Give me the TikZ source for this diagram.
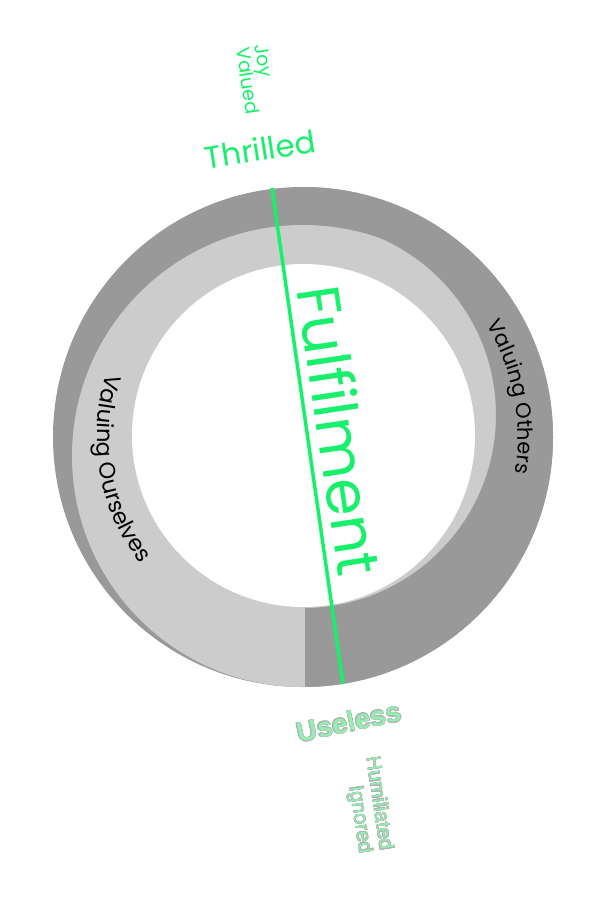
\documentclass[tikz,border=0pt]{standalone}
\usepackage{fontspec}
\setmainfont{Poppins}
\newfontfamily\sadfont{Liberation Sans}
\usepackage{xcolor}
\usepackage[copies]{contour}
\usepackage{tikz}
\usetikzlibrary{positioning,decorations.text}

\definecolor{ringdark}{HTML}{999999}
\definecolor{ringlight}{HTML}{CCCCCC}
\definecolor{joygreen}{RGB}{24,240,108}
\definecolor{sadmint}{RGB}{150,236,178}
\definecolor{sadedge}{RGB}{170,178,174}
\contourlength{0.45pt}
\newcommand{\ringfont}{\fontsize{21}{24}\selectfont}
\newcommand{\ringfontbig}{\fontsize{22.5}{24}\selectfont}

\begin{document}
\begin{tikzpicture}[
  x=1pt, y=-1pt,
  joy/.style={inner sep=0pt, text=joygreen},
  sad/.style={inner sep=0pt, text=sadmint},
  axis/.style={draw=joygreen, line width=3.5pt},
  ringtext/.style={decorate, decoration={text along path, text align=center, text={#1}}}
]
\useasboundingbox (0,0) rectangle (600,900);

% ring
\fill[ringdark] (303,437) circle[radius=250pt];
\fill[ringlight] (303,456) circle[radius=231pt];
\begin{scope}
  \clip (305,0) rectangle (600,900);
  \fill[ringdark, even odd rule] (303,437) circle[radius=250pt] (303,415) circle[radius=193pt];
\end{scope}
\fill[white] (303.5,435.5) circle[radius=171.5pt];

% labels on the ring
\path[ringtext={|\ringfont|Valuing Others}] (303,437) ++(34:215pt) arc[start angle=34, end angle=-12, radius=215pt];
\path[ringtext={|\ringfontbig|Valuing Ourselves}] (303,437) ++(156:206pt) arc[start angle=156, end angle=224, radius=206pt];

% axis
\coordinate (high) at (272,188);
\coordinate (low) at (343,684);
\draw[axis] (high) -- (low);

\node[joy, rotate=-81.5, font=\fontsize{60}{60}\selectfont] (fulfil) at (340,430) {Fulfilment};
\node[joy, rotate=9, font=\fontsize{31}{31}\selectfont] (thrilled) at (260,149) {Thrilled};
\node[joy, rotate=-81.5, anchor=west, align=left, font=\fontsize{19}{19}\selectfont] (joyvalued) at (252,46) {Joy\\Valued};

\node[sad, rotate=12, font=\sadfont\bfseries\fontsize{28}{28}\selectfont] (useless) at (349,722) {\contour{sadedge}{Useless}};
\node[sad, rotate=-81.5, anchor=east, align=right, font=\sadfont\fontsize{20}{21}\selectfont] (hurt) at (375,852) {\contour{sadedge}{Humiliated}\\\contour{sadedge}{Ignored}};
\end{tikzpicture}
\end{document}
